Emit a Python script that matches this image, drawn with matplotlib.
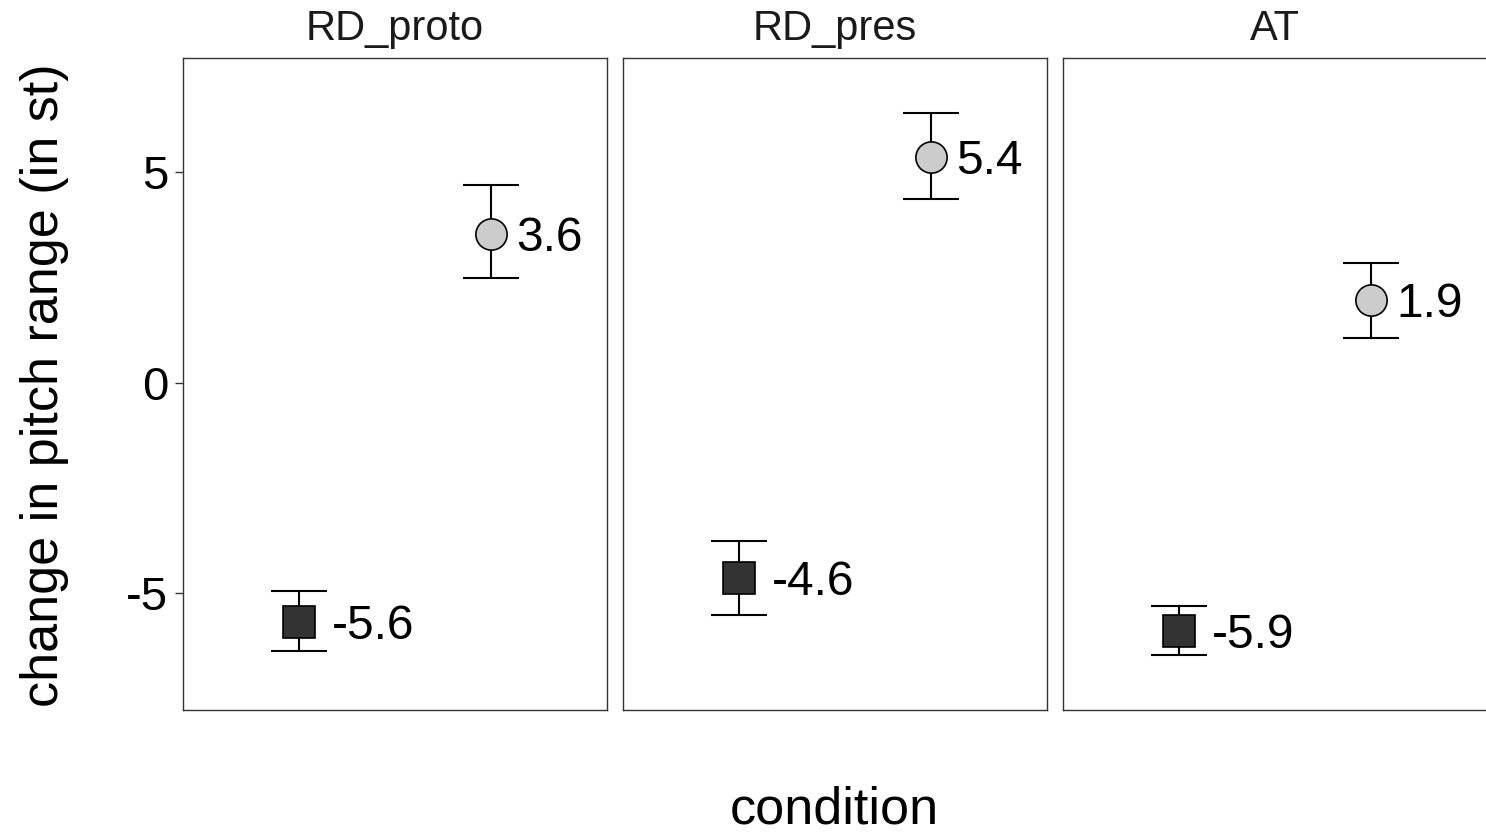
import numpy as np
import matplotlib
matplotlib.use("Agg")
import matplotlib.pyplot as plt

plt.rcParams['font.family'] = ['Liberation Sans', 'DejaVu Sans']

# data
conditions = ["RD_proto", "RD_pres", "AT"]
groups = ["square", "circle"]
square_mean = [-5.68, -4.63, -5.89]
square_low = [-6.36, -5.51, -6.46]
square_high = [-4.94, -3.75, -5.30]
square_text = ["-5.6", "-4.6", "-5.9"]
circle_mean = [3.55, 5.36, 1.97]
circle_low = [2.49, 4.38, 1.07]
circle_high = [4.70, 6.42, 2.85]
circle_text = ["3.6", "5.4", "1.9"]
yticks = [-5, 0, 5]

W, H = 1486, 832
fig = plt.figure(figsize=(W / 100, H / 100), dpi=100)

series = [
    (square_mean, square_low, square_high, square_text, "s", "#333333", 33),
    (circle_mean, circle_low, circle_high, circle_text, "o", "#cccccc", 25),
]

for i, cond in enumerate(conditions):
    left = 183 + i * 440
    ax = fig.add_axes([left / W, 1 - 710 / H, 424 / W, 652 / H])
    for k, (mean, low, high, txt, mk, fc, dx) in enumerate(series):
        x = k + 1
        m = mean[i]
        ax.errorbar([x], [m], yerr=[[m - low[i]], [high[i] - m]], fmt="none",
                    ecolor="black", elinewidth=1.5, capsize=20, capthick=1.5, zorder=2)
        ax.plot([x], [m], marker=mk, markersize=22.5, markerfacecolor=fc,
                markeredgecolor="black", markeredgewidth=1.2, linestyle="none", zorder=3)
        ax.annotate(txt[i], (x, m), xytext=(dx, -17), textcoords="offset pixels",
                    ha="left", va="baseline", fontsize=34.5, color="black")
    ax.set_xlim(0.4, 2.6)
    ax.set_ylim(-7.77, 7.72)
    ax.set_xticks([])
    for sp in ax.spines.values():
        sp.set_color("#333333")
        sp.set_linewidth(1.0)
    if i == 0:
        ax.set_yticks(yticks)
        ax.set_yticklabels([str(t) for t in yticks])
        ax.tick_params(axis="y", length=5.5, width=1.0, color="#333333",
                       labelsize=34, pad=5, labelcolor="black")
    else:
        ax.set_yticks([])
    fig.text((left + 212) / W, 1 - 40 / H, cond, ha="center", va="baseline",
             fontsize=30, color="#1a1a1a")

fig.text(834 / W, 1 - 823 / H, "condition", ha="center", va="baseline", fontsize=37.5)
fig.text(45 / W, 1 - 385 / H, "change in pitch range (in st)", ha="center", va="center",
         rotation=90, fontsize=37.5)

fig.savefig("out.png", dpi=100)
